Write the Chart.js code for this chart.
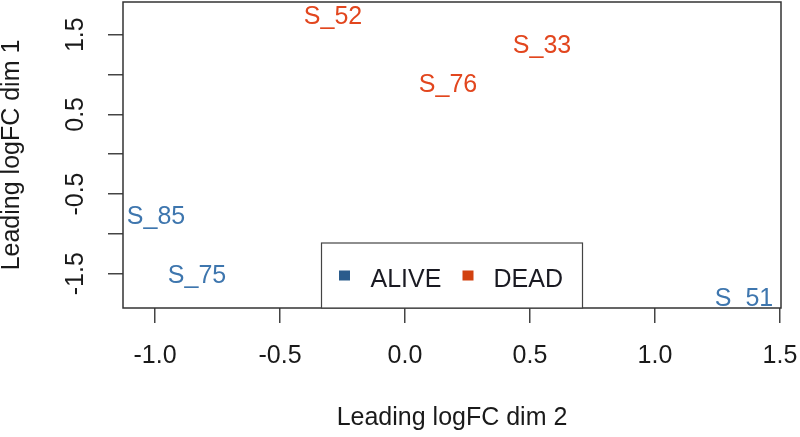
<!DOCTYPE html>
<html>
<head>
<meta charset="utf-8">
<script src="https://cdn.jsdelivr.net/npm/chart.js@4/dist/chart.umd.min.js"></script>
<style>
  html, body { margin: 0; padding: 0; background: #ffffff; }
  #wrap { width: 800px; height: 437px; }
</style>
</head>
<body>
<div id="wrap"><canvas id="c" width="800" height="437"></canvas></div>
<script>
// ---- data ----
const groupNames = ['ALIVE', 'DEAD'];
const aliveSamples = ['S_85', 'S_75', 'S_51'];
const aliveDim2 = [-0.996, -0.832, 1.356];
const aliveDim1 = [-0.759, -1.50, -1.789];
const deadSamples = ['S_52', 'S_33', 'S_76'];
const deadDim2 = [-0.288, 0.548, 0.172];
const deadDim1 = [1.75, 1.387, 0.891];
const xTicks = [-1.0, -0.5, 0.0, 0.5, 1.0, 1.5];
const yTicks = [-1.5, -1.0, -0.5, 0.0, 0.5, 1.0, 1.5];
const yTickLabels = ['-1.5', '', '-0.5', '', '0.5', '', '1.5'];
const xLimits = [-1.128, 1.504];
const yLimits = [-1.93, 1.91];
const xTitle = 'Leading logFC dim 2';
const yTitle = 'Leading logFC dim 1';

// ---- styles ----
const FONT = "'Liberation Sans', Arial, 'DejaVu Sans', sans-serif";
const FS = 25;
const textBlue = '#3E76AE';
const textRed = '#E2461E';
const keyBlue = '#2B5C8C';
const keyRed = '#D2410F';

function pts(xs, ys) { return xs.map((x, i) => ({ x: x, y: ys[i] })); }
function noPad(s) { s.paddingTop = 0; s.paddingBottom = 0; s.paddingLeft = 0; s.paddingRight = 0; }

const boxPlugin = {
  id: 'rbox',
  afterDraw(chart) {
    const a = chart.chartArea, ctx = chart.ctx;
    ctx.save();
    ctx.strokeStyle = '#333';
    ctx.lineWidth = 1.5;
    ctx.strokeRect(a.left, a.top, a.right - a.left, a.bottom - a.top);
    ctx.restore();
  }
};

const labelPlugin = {
  id: 'ptlabels',
  afterDatasetsDraw(chart) {
    const a = chart.chartArea, ctx = chart.ctx;
    const xs = chart.scales.x, ys = chart.scales.y;
    ctx.save();
    ctx.beginPath();
    ctx.rect(a.left, a.top, a.right - a.left, a.bottom - a.top);
    ctx.clip();
    ctx.font = FS + 'px ' + FONT;
    ctx.textAlign = 'center';
    ctx.textBaseline = 'alphabetic';
    chart.data.datasets.forEach(ds => {
      ctx.fillStyle = ds.textColor;
      ds.data.forEach((p, i) => {
        const px = xs.getPixelForValue(p.x);
        const py = ys.getPixelForValue(p.y);
        ctx.fillText(ds.names[i], px, py + FS * 0.36);
      });
    });
    ctx.restore();
  }
};

const legendPlugin = {
  id: 'rlegend',
  afterDraw(chart) {
    const a = chart.chartArea, ctx = chart.ctx;
    const w = 261, h = 65;
    const cx = (a.left + a.right) / 2;
    const left = cx - w / 2, top = a.bottom - h;
    ctx.save();
    ctx.fillStyle = '#fff';
    ctx.fillRect(left, top, w, h);
    ctx.strokeStyle = '#444';
    ctx.lineWidth = 1.2;
    ctx.strokeRect(left, top, w, h);
    ctx.font = FS + 'px ' + FONT;
    ctx.textBaseline = 'alphabetic';
    ctx.textAlign = 'left';
    const cy = top + 33;
    const ds = chart.data.datasets;
    const sq = 11;
    const sqX = [left + 23, left + 146.5];
    const txX = [left + 49, left + 172];
    ds.forEach((d, i) => {
      ctx.fillStyle = d.keyColor;
      ctx.fillRect(sqX[i] - sq / 2, cy - sq / 2, sq, sq - 1);
      ctx.fillStyle = '#1a1a22';
      ctx.fillText(d.label, txX[i], cy + 2 + FS * 0.36);
    });
    ctx.restore();
  }
};

new Chart(document.getElementById('c'), {
  type: 'scatter',
  data: {
    datasets: [
      { label: groupNames[0], data: pts(aliveDim2, aliveDim1), names: aliveSamples,
        textColor: textBlue, keyColor: keyBlue, pointRadius: 0, pointHoverRadius: 0,
        backgroundColor: keyBlue, borderColor: keyBlue },
      { label: groupNames[1], data: pts(deadDim2, deadDim1), names: deadSamples,
        textColor: textRed, keyColor: keyRed, pointRadius: 0, pointHoverRadius: 0,
        backgroundColor: keyRed, borderColor: keyRed }
    ]
  },
  options: {
    responsive: false,
    animation: false,
    events: [],
    layout: { padding: { top: 2, right: 19, left: 0, bottom: 0 } },
    plugins: { legend: { display: false }, tooltip: { enabled: false } },
    scales: {
      x: {
        type: 'linear', position: 'bottom',
        min: xLimits[0], max: xLimits[1],
        afterBuildTicks: s => { s.ticks = xTicks.map(v => ({ value: v })); },
        afterFit: s => { s.height = 129; noPad(s); },
        ticks: {
          autoSkip: false, maxRotation: 0, minRotation: 0,
          padding: 18, color: '#1a1a1a',
          font: { family: FONT, size: FS, lineHeight: 1.2 },
          callback: v => Number(v).toFixed(1)
        },
        grid: { drawOnChartArea: false, drawTicks: true, tickLength: 15, color: '#444', lineWidth: 1.5 },
        border: { display: false },
        title: { display: true, text: xTitle, color: '#1a1a1a',
          font: { family: FONT, size: FS, lineHeight: 1 }, padding: { top: 0, bottom: 6.5 } }
      },
      y: {
        type: 'linear', position: 'left',
        min: yLimits[0], max: yLimits[1],
        afterBuildTicks: s => { s.ticks = yTicks.map(v => ({ value: v })); },
        afterFit: s => { s.width = 123; noPad(s); },
        ticks: {
          autoSkip: false, minRotation: 90, maxRotation: 90, crossAlign: 'center',
          padding: 10.5, color: '#1a1a1a',
          font: { family: FONT, size: FS, lineHeight: 1.2 },
          callback: v => { const i = yTicks.indexOf(Number(v)); return i >= 0 ? yTickLabels[i] : ''; }
        },
        grid: { drawOnChartArea: false, drawTicks: true, tickLength: 15, color: '#444', lineWidth: 1.5 },
        border: { display: false },
        title: { display: true, text: yTitle, color: '#1a1a1a',
          font: { family: FONT, size: FS, lineHeight: 1 }, padding: { top: 0, bottom: 0 } }
      }
    }
  },
  plugins: [labelPlugin, boxPlugin, legendPlugin]
});
</script>
</body>
</html>
